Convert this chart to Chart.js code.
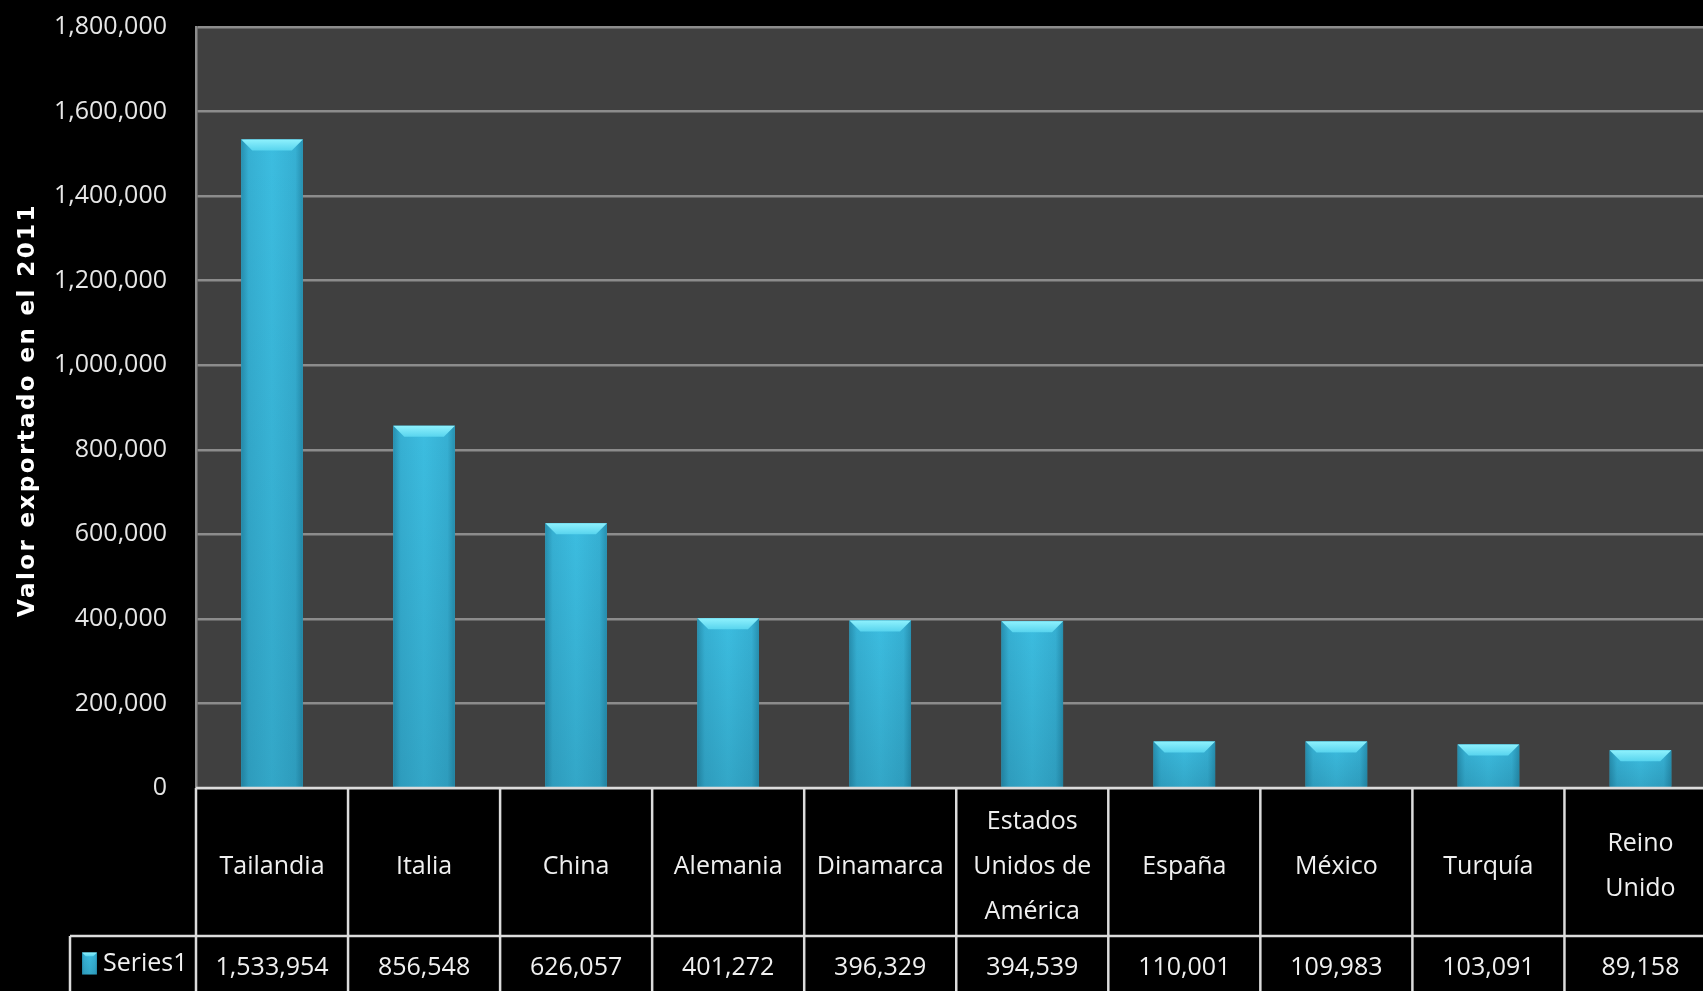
<!DOCTYPE html>
<html><head><meta charset="utf-8">
<script src="https://cdn.jsdelivr.net/npm/chart.js@4.4.1/dist/chart.umd.min.js"></script>
<style>
html,body{margin:0;padding:0;background:#000;overflow:hidden;width:1703px;height:991px;}
#wrap{position:absolute;left:0;top:0;width:1720px;height:991px;}
canvas{display:block;}
</style></head><body>
<div id="wrap"><canvas id="c" width="1720" height="991"></canvas></div>
<script>
const categories = ['Tailandia','Italia','China','Alemania','Dinamarca','Estados Unidos de América','España','México','Turquía','Reino Unido'];
const categoryLines = [['Tailandia'],['Italia'],['China'],['Alemania'],['Dinamarca'],['Estados','Unidos de','América'],['España'],['México'],['Turquía'],['Reino','Unido']];
const seriesName = 'Series1';
const values = [1533954, 856548, 626057, 401272, 396329, 394539, 110001, 109983, 103091, 89158];
const yMin = 0, yMax = 1800000, yStep = 200000;
const yTitle = 'Valor exportado en el 2011';

const fmt = v => v.toLocaleString('en-US');
const FONT = "'Open Sans', 'DejaVu Sans', sans-serif";

function bevelBar(ctx, left, right, top, bottom) {
  const w = right - left;
  const g = ctx.createLinearGradient(left, 0, right, 0);
  g.addColorStop(0, '#2790b0');
  g.addColorStop(0.12, '#36b0d3');
  g.addColorStop(0.5, '#3cbde0');
  g.addColorStop(0.88, '#36b0d3');
  g.addColorStop(1, '#2790b0');
  ctx.fillStyle = g;
  ctx.fillRect(left, top, w, bottom - top);
  const v = ctx.createLinearGradient(0, top, 0, bottom);
  v.addColorStop(0, 'rgba(0,40,60,0)');
  v.addColorStop(1, 'rgba(0,40,60,0.15)');
  ctx.fillStyle = v;
  ctx.fillRect(left, top, w, bottom - top);
  const b = Math.min(11, (bottom - top) / 2, w / 4);
  const tg = ctx.createLinearGradient(0, top, 0, top + b);
  tg.addColorStop(0, '#8ef1fd');
  tg.addColorStop(1, '#58d4ee');
  ctx.fillStyle = tg;
  ctx.beginPath();
  ctx.moveTo(left, top);
  ctx.lineTo(right, top);
  ctx.lineTo(right - b, top + b);
  ctx.lineTo(left + b, top + b);
  ctx.closePath();
  ctx.fill();
}

const tablePlugin = {
  id: 'tablePlugin',
  beforeDraw(chart) {
    const {ctx, chartArea: ca} = chart;
    ctx.save();
    ctx.fillStyle = '#000';
    ctx.fillRect(0, 0, chart.width, chart.height);
    ctx.fillStyle = '#404040';
    ctx.fillRect(ca.left, ca.top, ca.right - ca.left, ca.bottom - ca.top);
    ctx.restore();
  },
  afterDatasetsDraw(chart) {
    const {ctx} = chart;
    const meta = chart.getDatasetMeta(0);
    ctx.save();
    meta.data.forEach(el => {
      const p = el.getProps(['x', 'y', 'base', 'width'], true);
      bevelBar(ctx, p.x - p.width / 2, p.x + p.width / 2, p.y, p.base);
    });
    ctx.restore();
  },
  afterDraw(chart, args, opts) {
    const {ctx, chartArea: ca} = chart;
    const xs = chart.scales.x;
    const n = values.length;
    const cw = (ca.right - ca.left) / n;
    const sepY = xs.bottom;
    ctx.save();
    ctx.strokeStyle = '#dcdcdc';
    ctx.lineWidth = 2.5;
    const line = (x1, y1, x2, y2) => { ctx.beginPath(); ctx.moveTo(x1, y1); ctx.lineTo(x2, y2); ctx.stroke(); };
    line(ca.left, ca.bottom, chart.width, ca.bottom);
    line(opts.legendLeft, sepY, chart.width, sepY);
    for (let i = 0; i <= n; i++) {
      const x = (i < n ? xs.getPixelForValue(i) : xs.getPixelForValue(n - 1) + cw) - cw / 2;
      line(x, ca.bottom, x, chart.height);
    }
    line(opts.legendLeft, sepY, opts.legendLeft, chart.height);
    // legend key
    const midY = (sepY + chart.height) / 2;
    bevelBar(ctx, opts.legendLeft + 12, opts.legendLeft + 27, midY - 11, midY + 11);
    ctx.fillStyle = '#f0f0f0';
    ctx.font = '25px ' + FONT;
    ctx.textBaseline = 'middle';
    ctx.textAlign = 'left';
    ctx.fillText(chart.data.datasets[0].label, opts.legendLeft + 33, midY);
    // y axis title (letter-spaced)
    ctx.translate(opts.titleX, opts.titleY);
    ctx.rotate(-Math.PI / 2);
    ctx.fillStyle = '#ffffff';
    ctx.font = "bold 23px 'DejaVu Sans', sans-serif";
    ctx.letterSpacing = '2.4px';
    ctx.textAlign = 'center';
    ctx.textBaseline = 'middle';
    ctx.fillText(yTitle, 0, 0);
    ctx.restore();
  }
};

new Chart(document.getElementById('c'), {
  type: 'bar',
  data: {
    labels: categories,
    datasets: [{
      label: seriesName,
      data: values,
      backgroundColor: '#3cbde0',
      borderWidth: 0,
      barPercentage: 0.405,
      categoryPercentage: 1.0
    }]
  },
  options: {
    responsive: false,
    devicePixelRatio: 1,
    animation: false,
    layout: { padding: { left: 0, top: 27, right: 3.5, bottom: 0 } },
    plugins: {
      legend: { display: false },
      tooltip: { enabled: false },
      tablePlugin: { legendLeft: 70, titleX: 28, titleY: 410 }
    },
    scales: {
      y: {
        min: yMin, max: yMax,
        afterFit(s) { s.width = 196; s.paddingTop = 0; s.paddingBottom = 0; },
        ticks: {
          stepSize: yStep,
          callback: v => fmt(v),
          color: '#e6e6e6',
          font: { family: FONT, size: 25 },
          padding: 29
        },
        grid: { color: '#8c8c8c', lineWidth: 2.5, drawTicks: false },
        border: { display: true, color: '#8c8c8c', width: 2.5 },
        title: { display: false }
      },
      x: {
        position: 'bottom',
        weight: 0,
        offset: true,
        afterFit(s) { s.height = 148; s.paddingTop = 0; s.paddingBottom = 0; },
        grid: { display: false, drawTicks: false },
        border: { display: false },
        ticks: {
          callback: (v, i) => categoryLines[i],
          color: '#f0f0f0',
          font: { family: FONT, size: 25, lineHeight: 1.8 },
          padding: 33.5,
          crossAlign: 'center',
          maxRotation: 0,
          autoSkip: false
        }
      },
      x2: {
        type: 'category',
        position: 'bottom',
        weight: 1,
        offset: true,
        labels: values.map(fmt),
        afterFit(s) { s.height = 55; s.paddingTop = 0; s.paddingBottom = 0; },
        grid: { display: false, drawTicks: false },
        border: { display: false },
        ticks: {
          color: '#f0f0f0',
          font: { family: FONT, size: 25, lineHeight: 1 },
          padding: 31.5,
          crossAlign: 'center',
          maxRotation: 0,
          autoSkip: false
        }
      }
    }
  },
  plugins: [tablePlugin]
});
</script>
</body></html>
